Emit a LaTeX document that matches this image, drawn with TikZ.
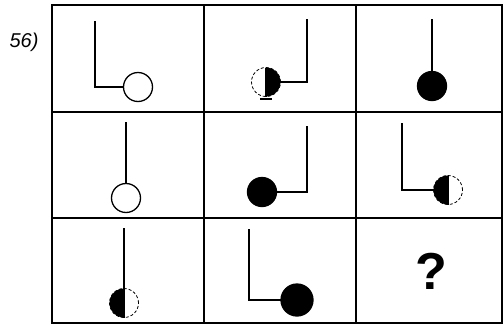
\documentclass[tikz,border=0pt]{standalone}
\usepackage{fontspec}
\setmainfont{Liberation Sans}
\begin{document}
\begin{tikzpicture}[x=1pt, y=-1pt, line width=1.5pt,
    ball/.style={circle, draw, line width=1.3pt, minimum size=29pt, inner sep=0pt, outer sep=0pt},
    halfball/.style={ball, densely dashed, line width=0.8pt}]
  \useasboundingbox (0,0) rectangle (504,327);
  \node[font=\itshape\fontsize{20}{20}\selectfont] (num) at (24,42) {56)};
  % grid
  \draw[line width=2pt] (52,5) rectangle (502,323);
  \draw[line width=2pt] (204,5) -- (204,323) (356,5) -- (356,323);
  \draw[line width=2pt] (52,112) -- (502,112) (52,218) -- (502,218);
  % row 1
  \node[ball] (b1) at (138,87) {};
  \coordinate (t1) at (95,21); \coordinate (k1) at (95,87);
  \draw (t1) -- (k1) -- (b1);
  \node[halfball] (b2) at (266,82) {};
  \fill (b2.north) arc[start angle=90, end angle=-90, radius=14.5pt] -- cycle;
  \draw[line width=1.3pt] (b2.north) -- (b2.south);
  \draw[line width=1.2pt] (260,99) -- (272,99);
  \coordinate (t2) at (307,19); \coordinate (k2) at (307,82);
  \draw (t2) -- (k2) -- (b2);
  \node[ball, fill=black] (b3) at (432,86) {};
  \coordinate (t3) at (432,19);
  \draw (t3) -- (b3);
  % row 2
  \node[ball] (b4) at (126,198) {};
  \coordinate (t4) at (126,122);
  \draw (t4) -- (b4);
  \node[ball, fill=black] (b5) at (262,192) {};
  \coordinate (t5) at (307,126); \coordinate (k5) at (307,192);
  \draw (t5) -- (k5) -- (b5);
  \node[halfball] (b6) at (448,190) {};
  \fill (b6.north) arc[start angle=90, end angle=270, radius=14.5pt] -- cycle;
  \draw[line width=1.3pt] (b6.north) -- (b6.south);
  \coordinate (t6) at (402,123); \coordinate (k6) at (402,190);
  \draw (t6) -- (k6) -- (b6);
  % row 3
  \node[halfball] (b7) at (124,303) {};
  \fill (b7.north) arc[start angle=90, end angle=270, radius=14.5pt] -- cycle;
  \draw[line width=1.3pt] (b7.north) -- (b7.south);
  \coordinate (t7) at (124,228);
  \draw (t7) -- (b7);
  \node[ball, fill=black, minimum size=32pt] (b8) at (297,300) {};
  \coordinate (t8) at (249,229); \coordinate (k8) at (249,300);
  \draw (t8) -- (k8) -- (b8);
  \node[font=\bfseries\fontsize{52}{52}\selectfont] (ask) at (431,271) {?};
\end{tikzpicture}
\end{document}
